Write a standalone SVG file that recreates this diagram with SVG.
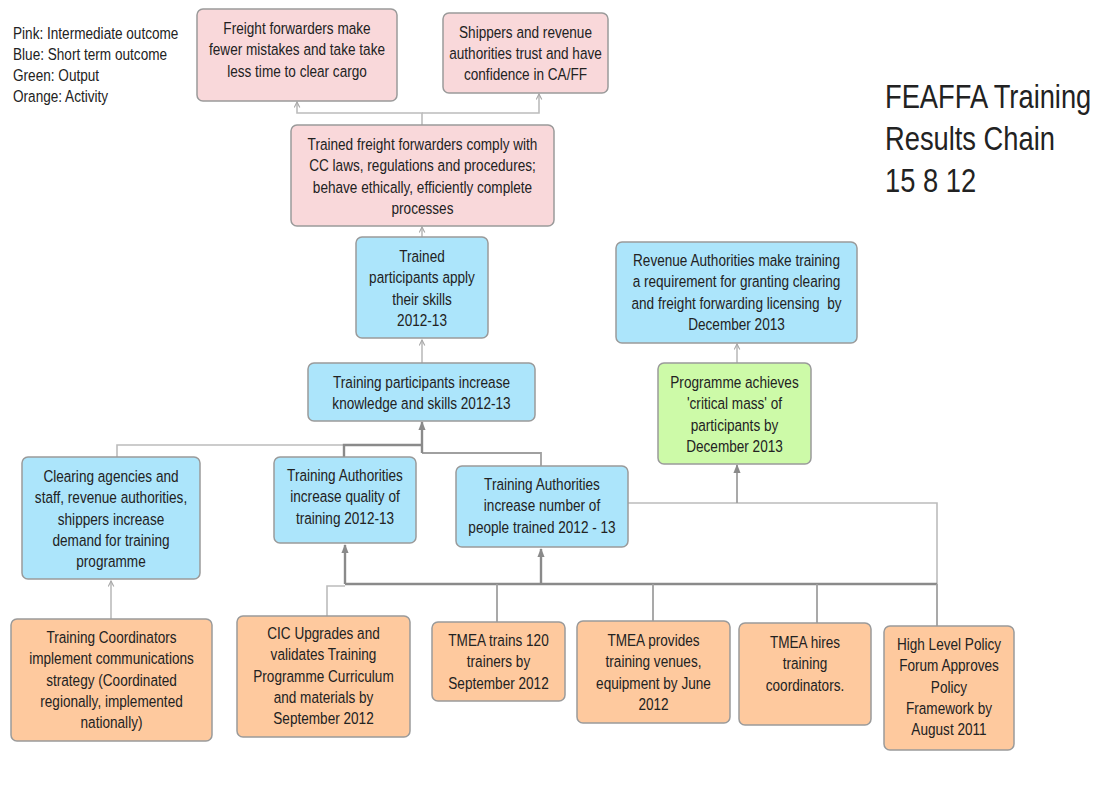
<svg xmlns="http://www.w3.org/2000/svg" width="1099" height="787" viewBox="0 0 1099 787">
<defs>
<style>
.box{stroke:#9a9a9a;stroke-width:1.5}
.pink{fill:#f9d8da}
.blue{fill:#ace5fb}
.green{fill:#cdfaa8}
.orange{fill:#fec99e}
.t{font-family:"Liberation Sans",Arial,sans-serif;font-size:16.5px;fill:#222;text-anchor:middle}
.leg{font-family:"Liberation Sans",Arial,sans-serif;font-size:16.5px;fill:#222}
.title{font-family:"Liberation Sans",Arial,sans-serif;font-size:33.5px;fill:#222}
.lt{fill:none;stroke:#bcbcbc;stroke-width:1.6}
.dk{fill:none;stroke:#8a8a8a;stroke-width:2.4}
.md{fill:none;stroke:#a0a0a0;stroke-width:1.8}
</style>
<marker id="ao" viewBox="0 0 10 10" refX="9" refY="5" markerWidth="7" markerHeight="7" markerUnits="userSpaceOnUse" orient="auto">
<path d="M1,1 L9,5 L1,9" fill="none" stroke="#a8a8a8" stroke-width="1.6"/>
</marker>
<marker id="af" viewBox="0 0 10 10" refX="9" refY="5" markerWidth="9" markerHeight="9" markerUnits="userSpaceOnUse" orient="auto">
<path d="M0,1 L10,5 L0,9 Z" fill="#8a8a8a"/>
</marker>
</defs>
<rect width="1099" height="787" fill="#ffffff"/>

<g id="legend">
<text class="leg" transform="translate(13,0) scale(0.824,1)"><tspan x="0" y="39">Pink: Intermediate outcome</tspan><tspan x="0" y="60">Blue: Short term outcome</tspan><tspan x="0" y="81">Green: Output</tspan><tspan x="0" y="102">Orange: Activity</tspan></text>
</g>

<g id="title">
<text class="title" transform="translate(885,0) scale(0.815,1)"><tspan x="0" y="108">FEAFFA Training</tspan><tspan x="0" y="150">Results Chain</tspan><tspan x="0" y="192">15 8 12</tspan></text>
</g>

<g id="connectors">
<path class="lt" d="M422 125 V113 H297 V102" marker-end="url(#ao)"/>
<path class="lt" d="M422 113 H539 V94" marker-end="url(#ao)"/>
<path class="lt" d="M422 237 V227" marker-end="url(#ao)"/>
<path class="lt" d="M422 363 V340" marker-end="url(#ao)"/>
<path class="lt" d="M737 364 V344" marker-end="url(#ao)"/>
<path class="lt" d="M117 457 V445 H344"/>
<path class="dk" d="M344 457 V445 H422"/>
<path class="md" d="M541 466 V453 H422"/>
<path class="dk" d="M422 453 V422" marker-end="url(#af)"/>
<path class="lt" d="M628 503 H937 V584"/>
<path class="md" d="M737 503 V465" marker-end="url(#af)"/>
<path class="dk" d="M345 584 H937"/>
<path class="dk" d="M345 584 V545" marker-end="url(#af)"/>
<path class="dk" d="M541 584 V549" marker-end="url(#af)"/>
<path class="md" d="M497 584 V622"/>
<path class="md" d="M653 584 V621"/>
<path class="md" d="M817 584 V623"/>
<path class="md" d="M937 584 V626"/>
<path class="lt" d="M327 616 V586 H345"/>
<path class="lt" d="M111 619 V581" marker-end="url(#ao)"/>
</g>

<g id="n-freight-mistakes">
<rect class="box pink" x="197" y="9" width="200" height="92" rx="6"/>
<text class="t" transform="translate(297,0) scale(0.824,1)"><tspan x="0" y="34">Freight forwarders make</tspan><tspan x="0" y="55.5">fewer mistakes and take take</tspan><tspan x="0" y="77">less time to clear cargo</tspan></text>
</g>

<g id="n-shippers-trust">
<rect class="box pink" x="443" y="13" width="165" height="80" rx="6"/>
<text class="t" transform="translate(525.5,0) scale(0.824,1)"><tspan x="0" y="38">Shippers and revenue</tspan><tspan x="0" y="59">authorities trust and have</tspan><tspan x="0" y="80">confidence in CA/FF</tspan></text>
</g>

<g id="n-trained-ff-comply">
<rect class="box pink" x="291" y="125" width="263" height="101" rx="6"/>
<text class="t" transform="translate(422.5,0) scale(0.824,1)"><tspan x="0" y="150">Trained freight forwarders comply with</tspan><tspan x="0" y="171.5">CC laws, regulations and procedures;</tspan><tspan x="0" y="193">behave ethically, efficiently complete</tspan><tspan x="0" y="214">processes</tspan></text>
</g>

<g id="n-apply-skills">
<rect class="box blue" x="356" y="237" width="132" height="101" rx="6"/>
<text class="t" transform="translate(422,0) scale(0.824,1)"><tspan x="0" y="262">Trained</tspan><tspan x="0" y="283.5">participants apply</tspan><tspan x="0" y="305">their skills</tspan><tspan x="0" y="326">2012-13</tspan></text>
</g>

<g id="n-increase-knowledge">
<rect class="box blue" x="308" y="363" width="227" height="58" rx="6"/>
<text class="t" transform="translate(421.5,0) scale(0.824,1)"><tspan x="0" y="388">Training participants increase</tspan><tspan x="0" y="409.5">knowledge and skills 2012-13</tspan></text>
</g>

<g id="n-revenue-requirement">
<rect class="box blue" x="616" y="242" width="241" height="101" rx="6"/>
<text class="t" transform="translate(736.5,0) scale(0.824,1)"><tspan x="0" y="266">Revenue Authorities make training</tspan><tspan x="0" y="287.5">a requirement for granting clearing</tspan><tspan x="0" y="309">and freight forwarding licensing&#160; by</tspan><tspan x="0" y="330">December 2013</tspan></text>
</g>

<g id="n-critical-mass">
<rect class="box green" x="658" y="363" width="153" height="101" rx="6"/>
<text class="t" transform="translate(734.5,0) scale(0.824,1)"><tspan x="0" y="388">Programme achieves</tspan><tspan x="0" y="409.5">'critical mass' of</tspan><tspan x="0" y="431">participants by</tspan><tspan x="0" y="452">December 2013</tspan></text>
</g>

<g id="n-clearing-demand">
<rect class="box blue" x="22" y="457" width="178" height="122" rx="6"/>
<text class="t" transform="translate(111,0) scale(0.824,1)"><tspan x="0" y="482">Clearing agencies and</tspan><tspan x="0" y="503.5">staff, revenue authorities,</tspan><tspan x="0" y="525">shippers increase</tspan><tspan x="0" y="546">demand for training</tspan><tspan x="0" y="567.5">programme</tspan></text>
</g>

<g id="n-ta-quality">
<rect class="box blue" x="274" y="457" width="142" height="86" rx="6"/>
<text class="t" transform="translate(345,0) scale(0.824,1)"><tspan x="0" y="481">Training Authorities</tspan><tspan x="0" y="502.5">increase quality of</tspan><tspan x="0" y="524">training 2012-13</tspan></text>
</g>

<g id="n-ta-number">
<rect class="box blue" x="456" y="466" width="172" height="81" rx="6"/>
<text class="t" transform="translate(542,0) scale(0.824,1)"><tspan x="0" y="490">Training Authorities</tspan><tspan x="0" y="511.5">increase number of</tspan><tspan x="0" y="533">people trained 2012 - 13</tspan></text>
</g>

<g id="n-coordinators-comms">
<rect class="box orange" x="11" y="619" width="201" height="122" rx="6"/>
<text class="t" transform="translate(111.5,0) scale(0.824,1)"><tspan x="0" y="643">Training Coordinators</tspan><tspan x="0" y="664.5">implement communications</tspan><tspan x="0" y="686">strategy (Coordinated</tspan><tspan x="0" y="707">regionally, implemented</tspan><tspan x="0" y="728.5">nationally)</tspan></text>
</g>

<g id="n-cic-upgrades">
<rect class="box orange" x="237" y="616" width="173" height="121" rx="6"/>
<text class="t" transform="translate(323.5,0) scale(0.824,1)"><tspan x="0" y="639">CIC Upgrades and</tspan><tspan x="0" y="660.5">validates Training</tspan><tspan x="0" y="682">Programme Curriculum</tspan><tspan x="0" y="703">and materials by</tspan><tspan x="0" y="724.5">September 2012</tspan></text>
</g>

<g id="n-tmea-trains">
<rect class="box orange" x="432" y="622" width="133" height="79" rx="6"/>
<text class="t" transform="translate(498.5,0) scale(0.824,1)"><tspan x="0" y="646">TMEA trains 120</tspan><tspan x="0" y="667.5">trainers by</tspan><tspan x="0" y="689">September 2012</tspan></text>
</g>

<g id="n-tmea-venues">
<rect class="box orange" x="577" y="621" width="153" height="102" rx="6"/>
<text class="t" transform="translate(653.5,0) scale(0.824,1)"><tspan x="0" y="646">TMEA provides</tspan><tspan x="0" y="667.5">training venues,</tspan><tspan x="0" y="689">equipment by June</tspan><tspan x="0" y="710">2012</tspan></text>
</g>

<g id="n-tmea-hires">
<rect class="box orange" x="739" y="623" width="132" height="102" rx="6"/>
<text class="t" transform="translate(805,0) scale(0.824,1)"><tspan x="0" y="648">TMEA hires</tspan><tspan x="0" y="669.5">training</tspan><tspan x="0" y="691">coordinators.</tspan></text>
</g>

<g id="n-policy-forum">
<rect class="box orange" x="884" y="626" width="130" height="124" rx="6"/>
<text class="t" transform="translate(949,0) scale(0.824,1)"><tspan x="0" y="650">High Level Policy</tspan><tspan x="0" y="671.5">Forum Approves</tspan><tspan x="0" y="693">Policy</tspan><tspan x="0" y="714">Framework by</tspan><tspan x="0" y="735.5">August 2011</tspan></text>
</g>
</svg>
